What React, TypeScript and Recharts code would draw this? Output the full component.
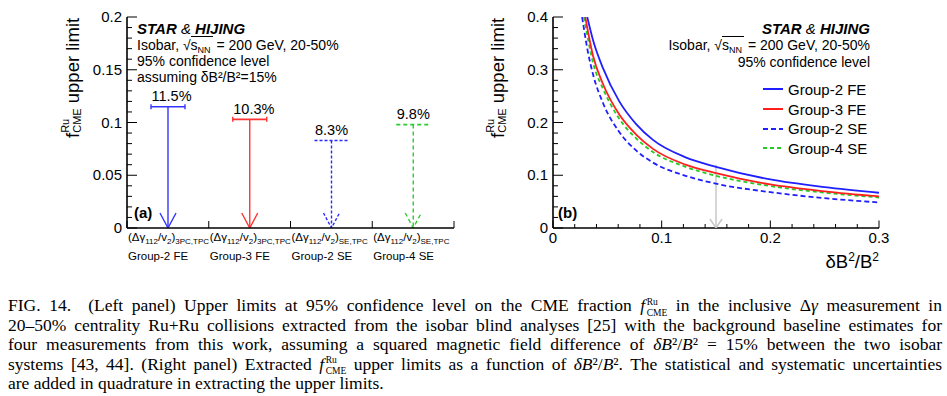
import React from 'react';
import { ComposedChart, Bar, LineChart, Line, XAxis, YAxis, Legend } from 'recharts';

// panel (a): upper limits assuming dB2/B2 = 15%
const groups = ['Group-2 FE', 'Group-3 FE', 'Group-2 SE', 'Group-4 SE'];
const methodSubs = ['3PC,TPC', '3PC,TPC', 'SE,TPC', 'SE,TPC'];
const upperLimits = [0.115, 0.103, 0.083, 0.098];
const limitLabels = ['11.5%', '10.3%', '8.3%', '9.8%'];
const slotPos = [0.5, 1.5, 2.5, 3.5];

// panel (b): upper limit vs dB2/B2
const dG2FE = [0.0315, 0.037, 0.046, 0.061, 0.0765, 0.092, 0.122, 0.15, 0.2, 0.25, 0.3];
const fG2FE = [0.4, 0.355, 0.303, 0.24, 0.197, 0.167, 0.134, 0.116, 0.092, 0.0775, 0.0668];
const dG3FE = [0.0297, 0.037, 0.046, 0.061, 0.0765, 0.092, 0.122, 0.15, 0.2, 0.25, 0.3];
const fG3FE = [0.4, 0.325, 0.273, 0.215, 0.177, 0.15, 0.12, 0.104, 0.0825, 0.0695, 0.0598];
const dG2SE = [0.0268, 0.032, 0.037, 0.046, 0.061, 0.0765, 0.092, 0.122, 0.15, 0.2, 0.25, 0.3];
const fG2SE = [0.4, 0.335, 0.29, 0.237, 0.182, 0.147, 0.124, 0.099, 0.084, 0.068, 0.0565, 0.0485];
const dG4SE = [0.0285, 0.037, 0.046, 0.061, 0.0765, 0.092, 0.122, 0.15, 0.2, 0.25, 0.3];
const fG4SE = [0.4, 0.312, 0.264, 0.207, 0.17, 0.144, 0.116, 0.099, 0.0795, 0.067, 0.0578];
const markerD = [0.15, 0.15];
const markerF = [0.12, 0];

// tick positions
const aYTicks = [0, 0.01, 0.02, 0.03, 0.04, 0.05, 0.06, 0.07, 0.08, 0.09, 0.1, 0.11, 0.12, 0.13, 0.14, 0.15, 0.16, 0.17, 0.18, 0.19, 0.2];
const aXTicks = [0, 1, 2, 3, 4];
const bYTicks = [0, 0.02, 0.04, 0.06, 0.08, 0.1, 0.12, 0.14, 0.16, 0.18, 0.2, 0.22, 0.24, 0.26, 0.28, 0.3, 0.32, 0.34, 0.36, 0.38, 0.4];
const bXTicks = [0, 0.02, 0.04, 0.06, 0.08, 0.1, 0.12, 0.14, 0.16, 0.18, 0.2, 0.22, 0.24, 0.26, 0.28, 0.3];

const toRows = (d: number[], f: number[]) => d.map((v, i) => ({ d: v, f: f[i] }));
const aRows = slotPos.map((p, i) => ({ pos: p, limit: upperLimits[i] }));

const FONT = '"Liberation Sans", Arial, Helvetica, sans-serif';
const ARROW_COLORS = ['#3535ff', '#ff3535', '#2a2aff', '#2ccc2c'];
const ARROW_DASH = [undefined, undefined, '3 2', '4 3'];
const AXIS = { stroke: '#000', strokeWidth: 1.6 };

const onStep = (v: number, step: number) => Math.abs(v / step - Math.round(v / step)) < 1e-6;

// ROOT style ticks, drawn inside the frame
const frameTick = (side: string, step: number, big: number, small: number, fmt?: (v: number) => string) =>
  (p: any) => {
    const { x, y, payload } = p;
    const v = payload.value;
    const len = onStep(v, step) ? big : small;
    let ln;
    if (side === 'left') ln = <line x1={x} x2={x + len} y1={y} y2={y} />;
    else if (side === 'right') ln = <line x1={x} x2={x - len} y1={y} y2={y} />;
    else if (side === 'top') ln = <line x1={x} x2={x} y1={y} y2={y + len} />;
    else ln = <line x1={x} x2={x} y1={y} y2={y - len} />;
    const lab = fmt && onStep(v, step) ? fmt(v) : '';
    return (
      <g stroke="#000" strokeWidth={1}>
        {ln}
        {lab && side === 'left' && (
          <text x={x - 5} y={y + 5} textAnchor="end" fontSize={15} fill="#000" stroke="none" fontFamily={FONT}>{lab}</text>
        )}
        {lab && side === 'bottom' && (
          <text x={x} y={y + 15} textAnchor="middle" fontSize={15} fill="#000" stroke="none" fontFamily={FONT}>{lab}</text>
        )}
      </g>
    );
  };

const CatTick = (p: any) => {
  const { x, y, payload } = p;
  const i = payload.value;
  return (
    <g fontFamily={FONT} fill="#000">
      <line x1={x} x2={x} y1={y} y2={y - 7} stroke="#000" strokeWidth={1} />
      {i < 4 && (
        <text x={x + 1} y={y + 12.5} fontSize={11.5}>
          <tspan>(Δγ</tspan>
          <tspan dy={3.5} fontSize={8}>112</tspan>
          <tspan dy={-3.5}>/v</tspan>
          <tspan dy={3.5} fontSize={8}>2</tspan>
          <tspan dy={-3.5}>)</tspan>
          <tspan dy={3.5} fontSize={8}>{methodSubs[i]}</tspan>
        </text>
      )}
      {i < 4 && (
        <text x={x + 1} y={y + 32} fontSize={11.5}>{groups[i]}</text>
      )}
    </g>
  );
};

const ArrowShape = (p: any) => {
  const { x, y, width, height, index } = p;
  const cx = x + width / 2;
  const y0 = y + height;
  const c = ARROW_COLORS[index];
  const dash = ARROW_DASH[index];
  return (
    <g stroke={c} fill="none" strokeWidth={1.4}>
      <line x1={x} x2={x + width} y1={y} y2={y} strokeWidth={1.6} strokeDasharray={dash} />
      {!dash && <line x1={x} x2={x} y1={y - 2.5} y2={y + 2.5} />}
      {!dash && <line x1={x + width} x2={x + width} y1={y - 2.5} y2={y + 2.5} />}
      <line x1={cx} x2={cx} y1={y} y2={y0} strokeDasharray={dash} />
      <polyline points={`${cx - 8},${y0 - 15} ${cx},${y0} ${cx + 8},${y0 - 15}`} strokeDasharray={dash} />
      <text x={cx - 16.5} y={y - 5.5} fontSize={14.5} fill="#000" stroke="none" fontFamily={FONT}>
        {limitLabels[index]}
      </text>
    </g>
  );
};

const ArrowHeadDot = (p: any) => {
  const { cx, cy, index } = p;
  if (index !== 1) return <g key={index} />;
  return (
    <polyline key={index} points={`${cx - 6},${cy - 9} ${cx},${cy} ${cx + 6},${cy - 9}`} fill="none" stroke="#c8c8c8" strokeWidth={1.5} />
  );
};

const renderLegend = (props: any) => {
  const items = (props.payload || [])
    .filter((e: any) => e.type !== 'none' && groups.includes(e.value))
    .sort((a: any, b: any) => groups.indexOf(a.value) - groups.indexOf(b.value));
  return (
    <div style={{ display: 'flex', flexDirection: 'column', fontFamily: FONT }}>
      {items.map((e: any) => (
        <div key={e.value} style={{ display: 'flex', alignItems: 'center', height: 19.7 }}>
          <svg width={20} height={4}>
            <line x1={0} x2={20} y1={2} y2={2} stroke={e.color} strokeWidth={2} strokeDasharray={e.payload?.strokeDasharray} />
          </svg>
          <span style={{ marginLeft: 5, fontSize: 15, color: '#000' }}>{e.value}</span>
        </div>
      ))}
    </div>
  );
};

const FRu = ({ size }: { size: number }) => (
  <span style={{ whiteSpace: 'nowrap' }}>
    <i>f</i>
    <span style={{ display: 'inline-block', verticalAlign: -4.5, lineHeight: '11px', fontSize: size, textAlign: 'left', marginLeft: 1.5 }}>
      Ru<br />CME
    </span>
  </span>
);

const Sqrt = () => (
  <span>
    √<span style={{ borderTop: '1px solid #000' }}>s<span style={{ fontSize: 9, verticalAlign: -3, lineHeight: 0, marginRight: 2 }}>NN</span></span>
  </span>
);

const capLine = (last = false): React.CSSProperties => ({
  height: 19.5,
  lineHeight: '19.5px',
  whiteSpace: 'nowrap',
  textAlign: 'justify',
  textAlignLast: last ? 'left' : 'justify',
});

export default function App() {
  return (
    <div style={{ position: 'absolute', left: 0, top: 0, width: 947, height: 396, background: '#fff', overflow: 'hidden', fontFamily: FONT, color: '#000' }}>
      {/* left panel */}
      <div style={{ position: 'absolute', left: 0, top: 0 }}>
        <ComposedChart width={480} height={285} data={aRows} margin={{ top: 17, right: 26, bottom: 17, left: 87 }}>
          <XAxis xAxisId="b" type="number" dataKey="pos" domain={[0, 4]} allowDataOverflow ticks={aXTicks} interval={0}
            tickSize={0} tickMargin={0} height={40} tickLine={false} axisLine={AXIS} tick={CatTick} />
          <XAxis xAxisId="t" orientation="top" type="number" dataKey="pos" domain={[0, 4]} allowDataOverflow ticks={aXTicks} interval={0}
            tickSize={0} tickMargin={0} height={0} tickLine={false} axisLine={AXIS} tick={frameTick('top', 1, 7, 7)} />
          <YAxis yAxisId="l" type="number" domain={[0, 0.2]} allowDataOverflow ticks={aYTicks} interval={0}
            tickSize={0} tickMargin={0} width={40} tickLine={false} axisLine={AXIS}
            tick={frameTick('left', 0.05, 10, 5, (v) => String(+v.toFixed(2)))} />
          <YAxis yAxisId="r" orientation="right" type="number" domain={[0, 0.2]} allowDataOverflow ticks={aYTicks} interval={0}
            tickSize={0} tickMargin={0} width={0} tickLine={false} axisLine={AXIS} tick={frameTick('right', 0.05, 10, 5)} />
          <Bar xAxisId="b" yAxisId="l" dataKey="limit" barSize={34} shape={ArrowShape} isAnimationActive={false} legendType="none" />
        </ComposedChart>
      </div>

      {/* right panel */}
      <div style={{ position: 'absolute', left: 470, top: 0 }}>
        <LineChart width={477} height={285} margin={{ top: 17, right: 68, bottom: 17, left: 43 }}>
          <XAxis xAxisId="b" type="number" dataKey="d" domain={[0, 0.3]} allowDataOverflow ticks={bXTicks} interval={0}
            tickSize={0} tickMargin={0} height={40} tickLine={false} axisLine={AXIS}
            tick={frameTick('bottom', 0.1, 7.5, 4, (v) => String(+v.toFixed(1)))} />
          <XAxis xAxisId="t" orientation="top" type="number" dataKey="d" domain={[0, 0.3]} allowDataOverflow ticks={bXTicks} interval={0}
            tickSize={0} tickMargin={0} height={0} tickLine={false} axisLine={AXIS} tick={frameTick('top', 0.1, 7.5, 4)} />
          <YAxis yAxisId="l" type="number" domain={[0, 0.4]} allowDataOverflow ticks={bYTicks} interval={0}
            tickSize={0} tickMargin={0} width={40} tickLine={false} axisLine={AXIS}
            tick={frameTick('left', 0.1, 10, 5, (v) => String(+v.toFixed(1)))} />
          <YAxis yAxisId="r" orientation="right" type="number" domain={[0, 0.4]} allowDataOverflow ticks={bYTicks} interval={0}
            tickSize={0} tickMargin={0} width={0} tickLine={false} axisLine={AXIS} tick={frameTick('right', 0.1, 10, 5)} />
          <Line xAxisId="b" yAxisId="l" data={toRows(markerD, markerF)} dataKey="f" stroke="#c8c8c8" strokeWidth={1.5}
            dot={ArrowHeadDot} activeDot={false} legendType="none" isAnimationActive={false} />
          <Line xAxisId="b" yAxisId="l" name="Group-2 SE" data={toRows(dG2SE, fG2SE)} dataKey="f" type="monotone"
            stroke="#1f1fff" strokeWidth={1.8} strokeDasharray="5 3" dot={false} isAnimationActive={false} />
          <Line xAxisId="b" yAxisId="l" name="Group-4 SE" data={toRows(dG4SE, fG4SE)} dataKey="f" type="monotone"
            stroke="#22cc22" strokeWidth={1.8} strokeDasharray="4 3" dot={false} isAnimationActive={false} />
          <Line xAxisId="b" yAxisId="l" name="Group-3 FE" data={toRows(dG3FE, fG3FE)} dataKey="f" type="monotone"
            stroke="#ff1f1f" strokeWidth={1.8} dot={false} isAnimationActive={false} />
          <Line xAxisId="b" yAxisId="l" name="Group-2 FE" data={toRows(dG2FE, fG2FE)} dataKey="f" type="monotone"
            stroke="#1f1fff" strokeWidth={1.8} dot={false} isAnimationActive={false} />
          <Legend layout="vertical" align="center" verticalAlign="middle" content={renderLegend}
            wrapperStyle={{ top: 79.5, left: 293, width: 'auto', height: 'auto' }} />
        </LineChart>
      </div>

      {/* axis titles and panel tags */}
      <svg width={947} height={285} style={{ position: 'absolute', left: 0, top: 0, pointerEvents: 'none' }} fontFamily={FONT}>
        {[79, 504].map((bx) => (
          <text key={bx} transform={`translate(${bx},138) rotate(-90)`} fontSize={18.5} fill="#000">
            <tspan>f</tspan>
            <tspan dy={-10} fontSize={11}>Ru</tspan>
            <tspan dx={-14} dy={12} fontSize={11}>CME</tspan>
            <tspan dy={-2}> upper limit</tspan>
          </text>
        ))}
        <text x={879} y={268} textAnchor="end" fontSize={18.5} fill="#000">
          <tspan>δB</tspan><tspan dy={-7} fontSize={12}>2</tspan><tspan dy={7}>/B</tspan><tspan dy={-7} fontSize={12}>2</tspan>
        </text>
        <text x={134} y={218} fontSize={15} fontWeight="bold" fill="#000">(a)</text>
        <text x={558} y={218} fontSize={15} fontWeight="bold" fill="#000">(b)</text>
      </svg>

      {/* left panel annotation */}
      <div style={{ position: 'absolute', left: 137, top: 21, fontSize: 14, lineHeight: '16px', whiteSpace: 'nowrap' }}>
        <div style={{ height: 16, fontSize: 15, fontStyle: 'italic' }}><b>STAR</b> &amp; <b>HIJING</b></div>
        <div style={{ height: 16 }}>Isobar, <Sqrt /> = 200 GeV, 20-50%</div>
        <div style={{ height: 16 }}>95% confidence level</div>
        <div style={{ height: 16 }}>assuming δB²/B²=15%</div>
      </div>

      {/* right panel annotation */}
      <div style={{ position: 'absolute', right: 77, top: 19.7, fontSize: 14, lineHeight: '17px', whiteSpace: 'nowrap', textAlign: 'right' }}>
        <div style={{ height: 17, fontSize: 15, fontStyle: 'italic' }}><b>STAR</b> &amp; <b>HIJING</b></div>
        <div style={{ height: 17 }}>Isobar, <Sqrt /> = 200 GeV, 20-50%</div>
        <div style={{ height: 17 }}>95% confidence level</div>
      </div>

      {/* caption */}
      <div style={{ position: 'absolute', left: 8, top: 296, width: 934, fontFamily: '"Liberation Serif", "Times New Roman", serif', fontSize: 17.5 }}>
        <div style={capLine()}>
          FIG. 14.&nbsp; (Left panel) Upper limits at 95% confidence level on the CME fraction <FRu size={9.5} /> in the inclusive Δ<i>γ</i> measurement in
        </div>
        <div style={capLine()}>
          20–50% centrality Ru+Ru collisions extracted from the isobar blind analyses [25] with the background baseline estimates for
        </div>
        <div style={capLine()}>
          four measurements from this work, assuming a squared magnetic field difference of <i>δB</i>²/<i>B</i>² = 15% between the two isobar
        </div>
        <div style={capLine()}>
          systems [43, 44]. (Right panel) Extracted <FRu size={9.5} /> upper limits as a function of <i>δB</i>²/<i>B</i>². The statistical and systematic uncertainties
        </div>
        <div style={capLine(true)}>
          are added in quadrature in extracting the upper limits.
        </div>
      </div>
    </div>
  );
}
